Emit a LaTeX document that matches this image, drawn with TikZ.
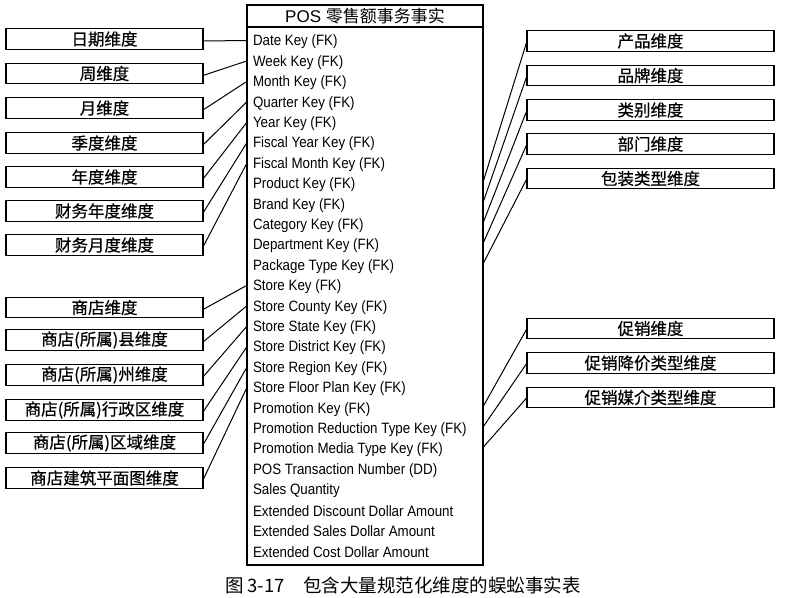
\documentclass[tikz,border=0pt]{standalone}
\usepackage{fontspec}
\setmainfont{Liberation Sans}
\newfontfamily\cjk{Noto Sans CJK SC}
\newfontfamily\cjkb{Noto Sans CJK SC}[FakeBold=0.5]
\newfontfamily\narrowf{Liberation Sans}[FakeStretch=0.89]
\begin{document}
\begin{tikzpicture}[x=1pt,y=-1pt,
  every node/.style={inner sep=0pt, outer sep=0pt},
  dimbox/.style={draw, line width=1.1pt, minimum height=20.5pt, font=\cjkb\fontsize{16.5}{17}\selectfont},
  lbox/.style={dimbox, minimum width=197pt},
  rbox/.style={dimbox, minimum width=247pt},
  rowtxt/.style={anchor=west, font=\narrowf\fontsize{15}{16}\selectfont},
  link/.style={line width=1pt}]
\useasboundingbox (0,0) rectangle (794,597);
% fact table
\node[draw, line width=1.1pt, anchor=north west, minimum width=236pt, minimum height=560pt] (fact) at (247,5) {};
\node[anchor=north, minimum width=236pt, minimum height=22pt, font=\fontsize{17}{18}\selectfont] (head) at (fact.north) {POS {\cjk 零售额事务事实}};
\draw[line width=1.1pt] (head.south west) -- (head.south east);
\foreach \t [count=\i from 0] in {Date Key (FK), Week Key (FK), Month Key (FK), Quarter Key (FK), Year Key (FK), Fiscal Year Key (FK), Fiscal Month Key (FK), Product Key (FK), Brand Key (FK), Category Key (FK), Department Key (FK), Package Type Key (FK), Store Key (FK), Store County Key (FK), Store State Key (FK), Store District Key (FK), Store Region Key (FK), Store Floor Plan Key (FK), Promotion Key (FK), Promotion Reduction Type Key (FK), Promotion Media Type Key (FK), POS Transaction Number (DD), Sales Quantity, Extended Discount Dollar Amount, Extended Sales Dollar Amount, Extended Cost Dollar Amount}
  \node[rowtxt] (r\i) at (253,{42+20.4*\i}) {\t};
% left boxes
\node[lbox] (L0) at (104.5,39) {日期维度};
\node[lbox] (L1) at (104.5,73.5) {周维度};
\node[lbox] (L2) at (104.5,108) {月维度};
\node[lbox] (L3) at (104.5,143) {季度维度};
\node[lbox] (L4) at (104.5,177) {年度维度};
\node[lbox] (L5) at (104.5,211) {财务年度维度};
\node[lbox] (L6) at (104.5,245) {财务月度维度};
\node[lbox] (L12) at (104.5,307.5) {商店维度};
\node[lbox] (L13) at (104.5,340) {商店(所属)县维度};
\node[lbox] (L14) at (104.5,375) {商店(所属)州维度};
\node[lbox] (L15) at (104.5,410) {商店(所属)行政区维度};
\node[lbox] (L16) at (104.5,443) {商店(所属)区域维度};
\node[lbox] (L17) at (104.5,478) {商店建筑平面图维度};
\foreach \i in {0,...,6,12,13,...,17}
  \draw[link] ([yshift=-2pt]L\i.east) -- ([yshift=1.5pt]fact.west |- r\i.west);
% right boxes
\node[rbox] (R7) at (650.5,41) {产品维度};
\node[rbox] (R8) at (650.5,75.5) {品牌维度};
\node[rbox] (R9) at (650.5,110) {类别维度};
\node[rbox] (R10) at (650.5,144) {部门维度};
\node[rbox] (R11) at (650.5,178.5) {包装类型维度};
\node[rbox] (R18) at (650.5,328.5) {促销维度};
\node[rbox] (R19) at (650.5,363) {促销降价类型维度};
\node[rbox] (R20) at (650.5,397.5) {促销媒介类型维度};
\foreach \i in {7,...,11,18,19,20}
  \draw[link] ([yshift=2.5pt]fact.east |- r\i.west) -- (R\i.west);
% caption
\node[font=\cjk\fontsize{18.5}{19}\selectfont] (cap) at (403,585) {图 3-17\quad 包含大量规范化维度的蜈蚣事实表};
\end{tikzpicture}
\end{document}
